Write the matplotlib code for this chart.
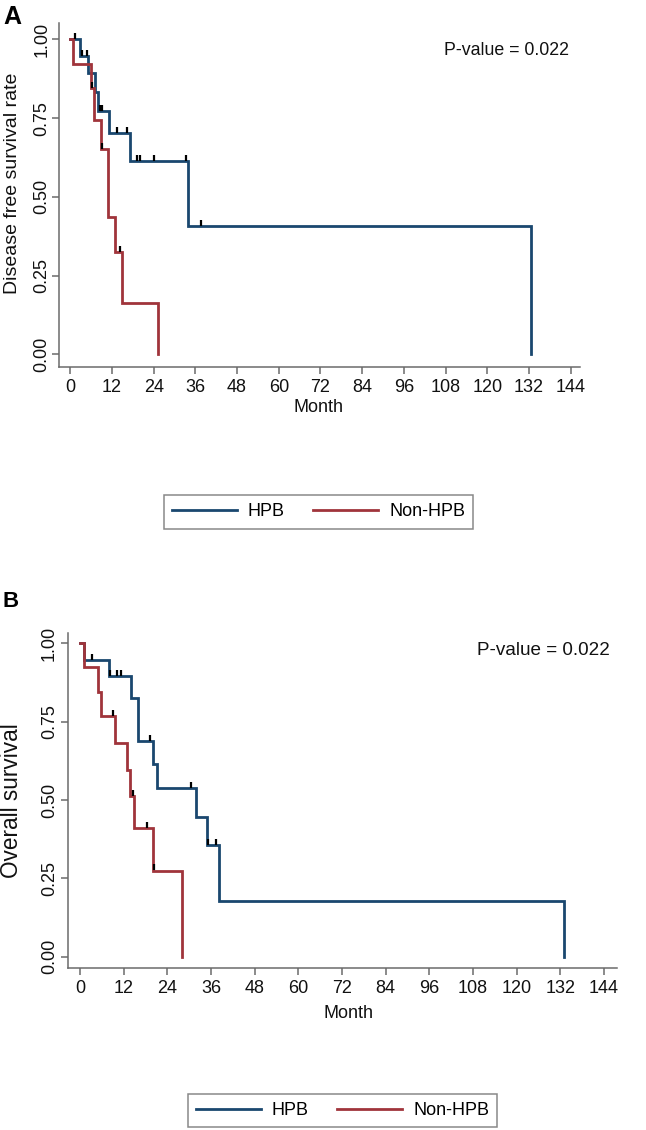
import numpy as np
import matplotlib
matplotlib.use("Agg")
import matplotlib.pyplot as plt
from matplotlib.transforms import offset_copy

plt.rcParams['font.family'] = ['Liberation Sans', 'DejaVu Sans']

# ---------------- data ----------------
groups = ["HPB", "Non-HPB"]
x_ticks = [0, 12, 24, 36, 48, 60, 72, 84, 96, 108, 120, 132, 144]
y_ticks = [0.0, 0.25, 0.50, 0.75, 1.00]
y_ticklabels = ["0.00", "0.25", "0.50", "0.75", "1.00"]
p_text_a = "P-value = 0.022"
p_text_b = "P-value = 0.022"

# Panel A: disease free survival (step times, survival after each step, censor times)
dfs_hpb_time = [0, 2.9, 5.1, 7.0, 8.0, 11.0, 17.1, 33.8, 132.5]
dfs_hpb_surv = [1.0, 0.947, 0.892, 0.834, 0.772, 0.702, 0.613, 0.409, 0.0]
dfs_hpb_cens = [1.3, 3.3, 4.9, 8.6, 9.1, 13.3, 16.2, 19.1, 20.1, 24.1, 33.2, 37.6]

dfs_non_time = [0, 0.8, 6.0, 6.8, 8.8, 10.8, 13.0, 14.9, 25.1]
dfs_non_surv = [1.0, 0.923, 0.846, 0.745, 0.652, 0.435, 0.326, 0.163, 0.0]
dfs_non_cens = [6.3, 9.2, 14.3]

# Panel B: overall survival
os_hpb_time = [0, 1.1, 8.0, 13.9, 16.0, 20.0, 21.1, 31.9, 35.0, 38.1, 133.0]
os_hpb_surv = [1.0, 0.947, 0.896, 0.826, 0.688, 0.614, 0.537, 0.446, 0.357, 0.178, 0.0]
os_hpb_cens = [3.2, 8.3, 10.2, 11.2, 19.2, 30.4, 35.3, 37.4]

os_non_time = [0, 1.1, 5.0, 5.9, 9.7, 12.9, 13.7, 14.8, 20.2, 28.1]
os_non_surv = [1.0, 0.923, 0.846, 0.769, 0.683, 0.596, 0.513, 0.412, 0.275, 0.0]
os_non_cens = [9.2, 14.5, 18.3, 20.4]

BLUE = "#1a476f"
RED = "#a0343b"
AXC = "#6b6b6b"

W, H = 646, 1130
fig = plt.figure(figsize=(W / 100, H / 100), dpi=100)


def surv_at(times, surv, t):
    i = np.searchsorted(np.asarray(times), t, side='right') - 1
    return np.asarray(surv)[i]


def panel(rect, xlim, ylim, curves, ylabel, ylabfs, yl_coords, xl_coords, ptext, pxy, pfs, ypad):
    ax = fig.add_axes(rect)
    for times, surv, cens, col, lab in curves:
        ax.step(times, surv, where='post', color=col, lw=2.0, label=lab,
                solid_joinstyle='miter')
        cy = [surv_at(times, surv, c) for c in cens]
        tr = offset_copy(ax.transData, fig=fig, x=0, y=2.2, units='points')
        ax.plot(cens, cy, ls='none', marker='|', ms=5, mew=1.6, color='black',
                transform=tr, zorder=5)
    ax.set_xlim(*xlim)
    ax.set_ylim(*ylim)
    ax.set_xticks(x_ticks)
    ax.set_xticklabels([str(v) for v in x_ticks])
    ax.set_yticks(y_ticks)
    ax.set_yticklabels(y_ticklabels, rotation=90, va='center')
    for s in ['top', 'right']:
        ax.spines[s].set_visible(False)
    for s in ['left', 'bottom']:
        ax.spines[s].set_color(AXC)
        ax.spines[s].set_linewidth(1.1)
    ax.tick_params(axis='both', colors=AXC, length=5, width=1.1, labelsize=13,
                   labelcolor='#111111')
    ax.tick_params(axis='x', pad=4)
    ax.tick_params(axis='y', pad=ypad)
    ax.set_xlabel("Month", fontsize=13, color='#111111')
    ax.xaxis.set_label_coords(*xl_coords)
    ax.set_ylabel(ylabel, fontsize=ylabfs, color='#111111')
    ax.yaxis.set_label_coords(*yl_coords)
    ax.text(pxy[0], pxy[1], ptext, transform=ax.transAxes, ha='right', va='center',
            fontsize=pfs, color='#111111')
    return ax


# Panel A
axA = panel([59.3 / W, 1 - 366.7 / H, (580 - 59.3) / W, (366.7 - 22.7) / H],
            (-3.17, 146.7), (-0.039, 1.053),
            [(dfs_hpb_time, dfs_hpb_surv, dfs_hpb_cens, BLUE, groups[0]),
             (dfs_non_time, dfs_non_surv, dfs_non_cens, RED, groups[1])],
            "Disease free survival rate", 14, (-0.074, 0.534), (0.497, -0.094),
            p_text_a, (0.979, 0.918), 12.8, 1.5)

# Panel B
axB = panel([67.7 / W, 1 - 967.7 / H, (617 - 67.7) / W, (967.7 - 632.7) / H],
            (-3.38, 147.6), (-0.035, 1.034),
            [(os_hpb_time, os_hpb_surv, os_hpb_cens, BLUE, groups[0]),
             (os_non_time, os_non_surv, os_non_cens, RED, groups[1])],
            "Overall survival", 16.3, (-0.081, 0.50), (0.512, -0.111),
            p_text_b, (0.987, 0.948), 13.6, 2.0)

for ax, cx, cy in [(axA, 318.5, 512), (axB, 342.5, 1110.5)]:
    leg = fig.legend(*ax.get_legend_handles_labels(), loc='center',
                     bbox_to_anchor=(cx / W, 1 - cy / H), ncol=2, fontsize=13,
                     handlelength=3.6, handletextpad=0.6, columnspacing=1.6,
                     borderpad=0.45, frameon=True, fancybox=False, borderaxespad=0)
    leg.get_frame().set_edgecolor(AXC)
    leg.get_frame().set_linewidth(1.1)

fig.text(3 / W, 1 - 5 / H, "A", fontsize=18, fontweight='bold', ha='left', va='top')
fig.text(3 / W, 1 - 591 / H, "B", fontsize=16, fontweight='bold', ha='left', va='top')

fig.savefig("out.png", dpi=100, facecolor='white')
